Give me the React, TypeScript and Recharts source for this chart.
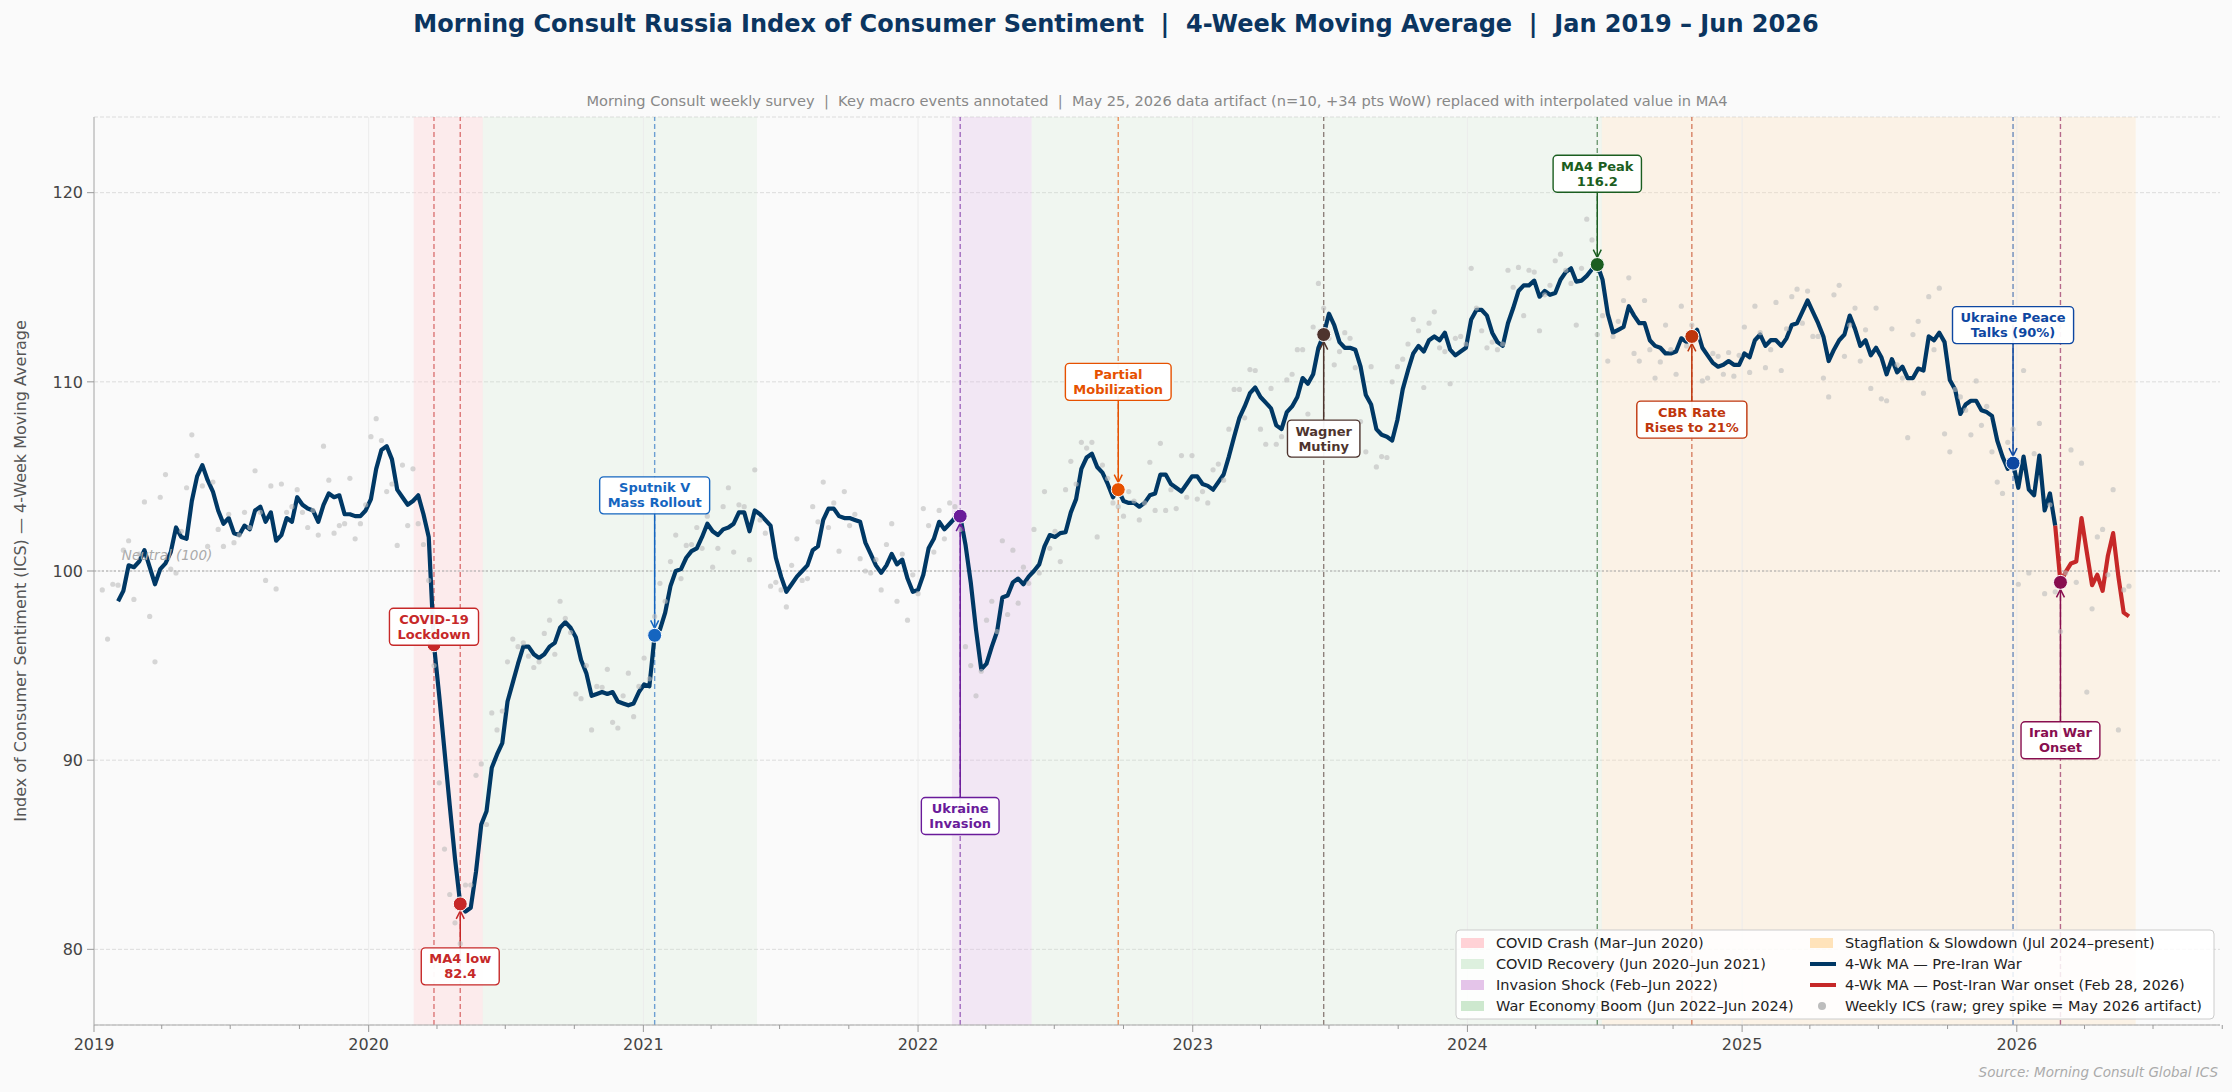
import React from "react";
import {
  CartesianGrid,
  ComposedChart,
  Line,
  ReferenceArea,
  ReferenceDot,
  ReferenceLine,
  XAxis,
  YAxis,
} from "recharts";

// Weekly survey dates start here; one value per week.
const FIRST_WEEK = "2019-01-12";
const X_END = "2026-09-28";
const IRAN_SPLIT = "2026-02-21";

// Raw weekly ICS readings (grey dots).
const rawWeekly = [
  99.0, 96.4, 99.3, 99.25, 101.1, 101.6, 98.5, 100.9, 103.65, 97.6,
  95.2, 103.9, 105.1, 100.1, 99.9, 102.1, 104.4, 107.2, 106.1, 104.5,
  101.3, 104.7, 102.2, 101.3, 103.0, 101.5, 101.9, 103.1, 102.3, 105.3,
  103.1, 99.5, 104.5, 99.05, 104.6, 103.1, 103.4, 104.3, 103.1, 102.3,
  103.2, 101.9, 106.6, 104.8, 102.0, 102.4, 102.5, 104.9, 101.7, 102.5,
  103.5, 107.1, 108.05, 106.9, 104.2, 104.6, 101.35, 105.6, 102.4, 105.4,
  102.5, 101.4, 99.5, 95.0, 88.8, 85.3, 82.9, 81.4, 80.3, 83.4,
  83.4, 89.2, 89.8, 86.6, 92.5, 91.6, 92.6, 95.2, 96.4, 96.0,
  96.2, 95.5, 94.9, 95.2, 96.7, 97.4, 95.6, 98.4, 97.5, 96.75,
  93.5, 93.25, 95.0, 91.6, 93.9, 93.85, 94.8, 92.0, 91.7, 93.4,
  94.6, 92.3, 93.9, 95.4, 94.3, 97.6, 99.35, 98.4, 100.5, 101.9,
  99.6, 101.35, 101.4, 102.3, 101.2, 102.9, 100.2, 101.2, 103.4, 104.4,
  101.0, 103.5, 103.4, 100.6, 105.35, 102.7, 102.0, 99.2, 99.4, 99.0,
  98.1, 100.3, 101.7, 99.5, 99.6, 103.4, 102.6, 104.7, 102.3, 103.6,
  101.05, 104.2, 102.4, 103.0, 100.65, 100.0, 99.9, 100.6, 99.0, 101.4,
  102.5, 98.4, 100.9, 97.4, 99.8, 98.8, 103.3, 102.4, 101.0, 103.2,
  101.7, 103.6, 103.4, 102.2, 96.0, 95.0, 93.4, 94.7, 97.4, 98.4,
  96.8, 101.6, 97.7, 101.1, 98.3, 100.2, 99.35, 102.2, 99.9, 104.2,
  101.2, 102.1, 100.5, 104.3, 105.8, 104.6, 106.8, 106.5, 106.8, 101.8,
  105.6, 104.9, 103.6, 103.4, 102.9, 104.2, 103.7, 102.7, 103.6, 105.75,
  103.2, 106.75, 103.2, 104.3, 103.3, 106.1, 103.9, 106.1, 103.8, 104.2,
  103.6, 105.35, 105.65, 104.8, 107.5, 109.6, 109.6, 108.1, 110.65, 110.6,
  107.5, 106.7, 109.65, 106.7, 107.1, 110.1, 110.4, 111.7, 111.7, 108.3,
  112.9, 115.2, 113.9, 112.3, 110.9, 111.6, 112.6, 112.3, 110.75, 107.9,
  106.3, 110.8, 105.5, 106.05, 106.0, 110.0, 110.8, 111.2, 112.0, 113.3,
  112.7, 109.7, 113.1, 113.7, 111.8, 111.6, 109.9, 112.3, 112.4, 112.0,
  116.0, 113.9, 112.7, 111.8, 112.1, 111.7, 112.0, 115.9, 115.0, 116.05,
  113.5, 115.9, 115.8, 112.7, 114.6, 115.1, 116.4, 116.75, 115.9, 115.2,
  113.0, 116.0, 118.6, 117.5, 112.5, 113.5, 111.1, 112.4, 113.2, 114.3,
  115.5, 111.5, 111.1, 114.3, 111.7, 110.2, 111.05, 113.0, 111.7, 110.4,
  114.0, 111.9, 113.0, 112.3, 110.05, 110.2, 111.5, 111.35, 110.4, 111.55,
  110.3, 111.4, 112.9, 110.5, 114.0, 112.6, 110.75, 111.7, 114.2, 110.6,
  112.8, 114.5, 114.9, 113.1, 114.8, 112.4, 112.4, 110.2, 109.2, 114.6,
  115.1, 111.35, 113.0, 113.9, 111.1, 112.75, 109.65, 113.9, 109.1, 109.0,
  112.8, 110.9, 110.2, 107.05, 112.5, 113.2, 109.4, 114.5, 111.7, 114.95,
  107.25, 106.3, 109.6, 109.2, 108.5, 107.2, 110.05, 107.7, 108.7, 106.3,
  104.7, 104.1, 106.8, 107.5, 99.3, 110.6, 99.9, 106.2, 107.8, 98.8,
  103.5, 98.9, 96.8, 99.9, 106.4, 99.4, 105.7, 93.6, 98.0, 101.8,
  102.2, 99.8, 104.3, 91.6, 99.0, 99.2,
];

// 4-week moving average, first value sits on week index 3.
const MA_OFFSET = 3;
const ma4 = [
  98.4, 98.95, 100.3, 100.2, 100.5, 101.1, 100.2, 99.3, 100.1, 100.4,
  101.0, 102.3, 101.8, 101.7, 103.7, 105.0, 105.6, 104.8, 104.2, 103.2,
  102.5, 102.8, 102.0, 101.9, 102.4, 102.2, 103.2, 103.4, 102.6, 103.1,
  101.6, 101.9, 102.8, 102.6, 103.9, 103.5, 103.3, 103.2, 102.6, 103.5,
  104.1, 103.9, 104.0, 103.0, 103.0, 102.9, 102.9, 103.2, 103.8, 105.4,
  106.4, 106.6, 105.9, 104.3, 103.9, 103.5, 103.7, 104.0, 103.0, 101.8,
  96.1, 93.4, 90.5, 87.6, 84.8, 82.4, 82.0, 82.2, 84.1, 86.6,
  87.3, 89.6, 90.3, 90.9, 93.1, 94.1, 95.1, 96.0, 96.0, 95.6,
  95.4, 95.6, 96.0, 96.2, 97.0, 97.3, 97.0, 96.5, 95.3, 94.6,
  93.4, 93.5, 93.6, 93.5, 93.6, 93.1, 93.0, 92.9, 93.0, 93.6,
  94.0, 93.9, 96.6, 96.9, 97.8, 99.2, 100.0, 100.1, 100.7, 101.05,
  101.2, 101.8, 102.5, 102.1, 101.9, 102.2, 102.3, 102.5, 103.1, 103.1,
  102.1, 103.2, 103.0, 102.7, 102.4, 100.7, 99.7, 98.9, 99.3, 99.7,
  100.0, 100.3, 101.1, 101.3, 102.7, 103.3, 103.3, 102.9, 102.8, 102.8,
  102.7, 102.6, 101.5, 100.9, 100.3, 99.9, 100.3, 100.9, 100.35, 100.6,
  99.6, 98.9, 99.0, 99.8, 101.2, 101.7, 102.6, 102.2, 102.5, 102.8,
  102.9, 101.4, 99.4, 96.9, 94.8, 95.1, 96.0, 96.8, 98.6, 98.7,
  99.4, 99.6, 99.3, 99.7, 100.0, 100.35, 101.3, 101.9, 101.8, 102.0,
  102.05, 103.1, 103.8, 105.4, 106.0, 106.2, 105.5, 105.2, 104.6, 103.9,
  104.3, 103.7, 103.6, 103.6, 103.4, 103.6, 104.0, 104.1, 105.1, 105.1,
  104.6, 104.4, 104.2, 104.6, 105.0, 105.0, 104.6, 104.5, 104.3, 104.7,
  105.1, 106.05, 107.1, 108.1, 108.7, 109.4, 109.7, 109.2, 108.9, 108.6,
  107.7, 107.5, 108.4, 108.7, 109.2, 110.2, 109.9, 110.4, 111.8, 112.5,
  113.6, 113.0, 112.1, 111.8, 111.8, 111.7, 110.8, 109.3, 108.8, 107.5,
  107.2, 107.1, 106.9, 108.0, 109.6, 110.6, 111.5, 111.9, 111.6, 112.2,
  112.4, 112.2, 112.6, 111.7, 111.4, 111.6, 111.8, 113.3, 113.8, 113.8,
  113.5, 112.6, 112.1, 111.9, 113.1, 113.9, 114.8, 115.1, 115.1, 115.35,
  114.5, 114.8, 114.6, 114.7, 115.4, 115.8, 116.0, 115.3, 115.35, 115.6,
  115.95, 116.2, 115.4, 113.6, 112.6, 112.75, 112.9, 114.0, 113.5, 113.1,
  113.1, 112.2, 111.9, 111.8, 111.5, 111.5, 111.6, 112.3, 112.1, 112.4,
  112.75, 111.8, 111.4, 111.0, 110.8, 110.9, 111.1, 110.9, 110.9, 111.5,
  111.3, 112.2, 112.5, 111.9, 112.2, 112.2, 111.9, 112.3, 113.0, 113.1,
  113.7, 114.3, 113.7, 113.1, 112.4, 111.1, 111.7, 112.2, 112.5, 113.5,
  112.8, 111.9, 112.2, 111.4, 111.8, 111.3, 110.4, 111.2, 110.5, 110.8,
  110.2, 110.2, 110.7, 110.6, 112.4, 112.2, 112.6, 112.1, 110.1, 109.6,
  108.3, 108.8, 109.0, 109.0, 108.5, 108.4, 108.2, 106.9, 106.05, 105.4,
  105.7, 104.4, 106.05, 104.3, 104.0, 106.1, 103.2, 104.1, 102.4, 99.4,
  99.95, 100.4, 100.5, 102.8, 101.0, 99.25, 99.8, 98.95, 100.8, 102.0,
  99.7, 97.8, 97.6,
];

const yTicks = [80, 90, 100, 110, 120];
const years = [2019, 2020, 2021, 2022, 2023, 2024, 2025, 2026];
const quarterMonths = ["01", "04", "07", "10"];

const periods = [
  { name: "COVID Crash (Mar–Jun 2020)", from: "2020-03-01", to: "2020-06-01", color: "#ffcdd2", alpha: 0.35 },
  { name: "COVID Recovery (Jun 2020–Jun 2021)", from: "2020-06-01", to: "2021-06-01", color: "#c8e6c9", alpha: 0.2 },
  { name: "Invasion Shock (Feb–Jun 2022)", from: "2022-02-15", to: "2022-06-01", color: "#e1bee7", alpha: 0.3 },
  { name: "War Economy Boom (Jun 2022–Jun 2024)", from: "2022-06-01", to: "2024-06-28", color: "#c8e6c9", alpha: 0.2 },
  { name: "Stagflation & Slowdown (Jul 2024–present)", from: "2024-06-28", to: "2026-06-08", color: "#ffe0b2", alpha: 0.28 },
];

const events = [
  { date: "2020-03-28", label: ["COVID-19", "Lockdown"], color: "#c62828", boxY: 97.05 },
  { date: "2020-05-02", label: ["MA4 low", "82.4"], color: "#c62828", boxY: 79.1 },
  { date: "2021-01-16", label: ["Sputnik V", "Mass Rollout"], color: "#1565c0", boxY: 104.0 },
  { date: "2022-02-26", label: ["Ukraine", "Invasion"], color: "#6a1b9a", boxY: 87.05 },
  { date: "2022-09-24", label: ["Partial", "Mobilization"], color: "#e65100", boxY: 110.0 },
  { date: "2023-06-24", label: ["Wagner", "Mutiny"], color: "#4e342e", boxY: 107.0 },
  { date: "2024-06-22", label: ["MA4 Peak", "116.2"], color: "#1b5e20", boxY: 121.0 },
  { date: "2024-10-26", label: ["CBR Rate", "Rises to 21%"], color: "#bf360c", boxY: 108.0 },
  { date: "2025-12-27", label: ["Ukraine Peace", "Talks (90%)"], color: "#0d47a1", boxY: 113.0 },
  { date: "2026-02-28", label: ["Iran War", "Onset"], color: "#880e4f", boxY: 91.05 },
];

const FONT = "DejaVu Sans, sans-serif";
const NAVY = "#003865";
const RED = "#c62828";
const DAY = 86400000;

function toYear(iso: string) {
  const d = Date.parse(iso + "T00:00:00Z");
  const y = new Date(d).getUTCFullYear();
  const s = Date.UTC(y, 0, 1);
  const e = Date.UTC(y + 1, 0, 1);
  return y + (d - s) / (e - s);
}

const firstMs = Date.parse(FIRST_WEEK + "T00:00:00Z");
const weekIndex = (iso: string) =>
  Math.round((Date.parse(iso + "T00:00:00Z") - firstMs) / (7 * DAY));
const weekIso = (i: number) => new Date(firstMs + i * 7 * DAY).toISOString().slice(0, 10);

const splitIdx = weekIndex(IRAN_SPLIT);

const rows = rawWeekly.map((raw, i) => {
  const m = i >= MA_OFFSET ? ma4[i - MA_OFFSET] : null;
  return {
    t: toYear(weekIso(i)),
    raw,
    ma: i <= splitIdx ? m : null,
    post: i >= splitIdx ? m : null,
  };
});

const xTicks = years.flatMap((y) => quarterMonths.map((m) => toYear(`${y}-${m}-01`)));
const xMax = toYear(X_END);

let measureCtx: CanvasRenderingContext2D | null = null;
function textWidth(s: string, font: string) {
  if (!measureCtx) measureCtx = document.createElement("canvas").getContext("2d");
  if (!measureCtx) return s.length * 8;
  measureCtx.font = font;
  return measureCtx.measureText(s).width;
}

function XTick(props: any) {
  const { x, y, payload } = props;
  const v = payload.value as number;
  const major = Math.abs(v - Math.round(v)) < 1e-6;
  return (
    <g>
      <line x1={x} x2={x} y1={y} y2={y + (major ? 7 : 4)} stroke="#999" strokeWidth={1} />
      {major && (
        <text x={x} y={y + 25} textAnchor="middle" fill="#444" fontSize={16} fontFamily={FONT}>
          {Math.round(v)}
        </text>
      )}
    </g>
  );
}

function EventMarker({ cx, cy, color, fromAbove, arrow }: any) {
  const r = 7;
  const tip = fromAbove ? cy - r : cy + r;
  const back = fromAbove ? tip - 8 : tip + 8;
  return (
    <g>
      {arrow && (
        <polyline
          points={`${cx - 4},${back} ${cx},${tip} ${cx + 4},${back}`}
          fill="none"
          stroke={color}
          strokeWidth={1.5}
        />
      )}
      <circle cx={cx} cy={cy} r={r} fill={color} stroke="#ffffff" strokeWidth={1} />
    </g>
  );
}

function EventBox({ cx, cy, lines, color }: any) {
  const font = `bold 13px ${FONT}`;
  const w = Math.max(...lines.map((l: string) => textWidth(l, font))) + 16;
  const h = 37;
  return (
    <g>
      <rect
        x={cx - w / 2}
        y={cy - h / 2}
        width={w}
        height={h}
        rx={4}
        fill="#ffffff"
        fillOpacity={0.95}
        stroke={color}
        strokeWidth={1.4}
      />
      {lines.map((l: string, k: number) => (
        <text
          key={k}
          x={cx}
          y={cy + (k === 0 ? -7.5 : 7.5)}
          textAnchor="middle"
          dominantBaseline="central"
          fill={color}
          fontSize={13}
          fontWeight="bold"
          fontFamily={FONT}
        >
          {l}
        </text>
      ))}
    </g>
  );
}

function Legend() {
  const rowsY = [943, 964, 985, 1006];
  const patchOpacity = [0.9, 0.6, 0.9, 0.9];
  const txt = { fontSize: 14.5, fontFamily: FONT, fill: "#222" } as const;
  return (
    <g>
      <rect x={1456} y={930} width={758} height={89} rx={4} fill="#ffffff" fillOpacity={0.85} stroke="#cccccc" />
      {periods.slice(0, 4).map((p, k) => (
        <g key={p.name}>
          <rect x={1461} y={rowsY[k] - 5} width={23} height={10} fill={p.color} fillOpacity={patchOpacity[k]} />
          <text x={1496} y={rowsY[k]} dominantBaseline="central" {...txt}>{p.name}</text>
        </g>
      ))}
      <rect x={1810} y={rowsY[0] - 5} width={23} height={10} fill={periods[4].color} fillOpacity={0.9} />
      <text x={1845} y={rowsY[0]} dominantBaseline="central" {...txt}>{periods[4].name}</text>
      <line x1={1810} x2={1836} y1={rowsY[1]} y2={rowsY[1]} stroke={NAVY} strokeWidth={4} />
      <text x={1845} y={rowsY[1]} dominantBaseline="central" {...txt}>4-Wk MA — Pre-Iran War</text>
      <line x1={1810} x2={1836} y1={rowsY[2]} y2={rowsY[2]} stroke={RED} strokeWidth={4} />
      <text x={1845} y={rowsY[2]} dominantBaseline="central" {...txt}>4-Wk MA — Post-Iran War onset (Feb 28, 2026)</text>
      <circle cx={1822} cy={rowsY[3]} r={4} fill="#bdbdbd" />
      <text x={1845} y={rowsY[3]} dominantBaseline="central" {...txt}>Weekly ICS (raw; grey spike = May 2026 artifact)</text>
    </g>
  );
}

export default function App() {
  return (
    <div
      style={{
        position: "absolute",
        left: 0,
        top: 0,
        width: 2232,
        height: 1092,
        background: "#fafafa",
        fontFamily: FONT,
      }}
    >
      <ComposedChart
        width={2232}
        height={1092}
        data={rows}
        margin={{ top: 117, right: 12, bottom: 27, left: 24 }}
      >
        {periods.map((p) => (
          <ReferenceArea
            key={p.name}
            x1={toYear(p.from)}
            x2={toYear(p.to)}
            fill={p.color}
            fillOpacity={p.alpha}
            stroke="none"
          />
        ))}
        <CartesianGrid vertical={false} stroke="#dcdcdc" strokeDasharray="4 2" />
        {years.map((y) => (
          <ReferenceLine key={y} x={y} stroke="#ececec" strokeWidth={1} />
        ))}
        <ReferenceLine y={100} stroke="#aaaaaa" strokeDasharray="2 2" strokeWidth={1.2} />
        <ReferenceDot
          x={toYear("2019-02-07")}
          y={100}
          r={0}
          shape={(p: any) => (
            <text x={p.cx} y={p.cy - 11} fill="#aaaaaa" fontSize={13.5} fontStyle="italic" fontFamily={FONT}>
              Neutral (100)
            </text>
          )}
        />
        {events.map((e) => (
          <ReferenceLine
            key={"v" + e.date}
            x={toYear(e.date)}
            stroke={e.color}
            strokeOpacity={0.6}
            strokeDasharray="5 3"
            strokeWidth={1.4}
          />
        ))}
        <XAxis
          type="number"
          dataKey="t"
          domain={[2019, xMax]}
          allowDataOverflow
          ticks={xTicks}
          interval={0}
          tick={(p: any) => <XTick {...p} />}
          tickLine={false}
          tickSize={0}
          tickMargin={0}
          axisLine={{ stroke: "#aaaaaa" }}
          height={40}
        />
        <YAxis
          type="number"
          domain={[76, 124]}
          ticks={yTicks}
          allowDataOverflow
          tick={{ fill: "#444", fontSize: 16, fontFamily: FONT }}
          tickLine={{ stroke: "#999" }}
          tickSize={7}
          tickMargin={4}
          axisLine={{ stroke: "#aaaaaa" }}
          width={70}
        />
        <Line
          dataKey="raw"
          stroke="none"
          dot={{ r: 2.6, fill: "#bdbdbd", fillOpacity: 0.6, stroke: "none" }}
          activeDot={false}
          isAnimationActive={false}
        />
        <Line
          dataKey="ma"
          stroke={NAVY}
          strokeWidth={4.2}
          dot={false}
          activeDot={false}
          strokeLinejoin="round"
          isAnimationActive={false}
        />
        <Line
          dataKey="post"
          stroke={RED}
          strokeWidth={4.2}
          dot={false}
          activeDot={false}
          strokeLinejoin="round"
          isAnimationActive={false}
        />
        {events.map((e) => {
          const i = weekIndex(e.date);
          const mv = ma4[i - MA_OFFSET];
          if (Math.abs(e.boxY - mv) < 2) return null;
          return (
            <ReferenceLine
              key={"a" + e.date}
              segment={[
                { x: toYear(e.date), y: e.boxY },
                { x: toYear(e.date), y: mv },
              ]}
              stroke={e.color}
              strokeWidth={1.5}
            />
          );
        })}
        {events.map((e) => {
          const i = weekIndex(e.date);
          const mv = ma4[i - MA_OFFSET];
          return (
            <ReferenceDot
              key={"m" + e.date}
              x={toYear(e.date)}
              y={mv}
              r={7}
              shape={(p: any) => (
                <EventMarker
                  cx={p.cx}
                  cy={p.cy}
                  color={e.color}
                  fromAbove={e.boxY > mv}
                  arrow={Math.abs(e.boxY - mv) >= 2}
                />
              )}
            />
          );
        })}
        {events.map((e) => (
          <ReferenceDot
            key={"b" + e.date}
            x={toYear(e.date)}
            y={e.boxY}
            r={1}
            shape={(p: any) => <EventBox cx={p.cx} cy={p.cy} lines={e.label} color={e.color} />}
          />
        ))}
      </ComposedChart>
      <svg
        width={2232}
        height={1092}
        style={{ position: "absolute", left: 0, top: 0, pointerEvents: "none" }}
      >
        <text
          x={1116}
          y={24}
          textAnchor="middle"
          dominantBaseline="central"
          fill="#0b3560"
          fontSize={24}
          fontWeight="bold"
          fontFamily={FONT}
          style={{ whiteSpace: "pre" }}
        >
          {"Morning Consult Russia Index of Consumer Sentiment  |  4-Week Moving Average  |  Jan 2019 – Jun 2026"}
        </text>
        <text
          x={1157}
          y={100}
          textAnchor="middle"
          dominantBaseline="central"
          fill="#888888"
          fontSize={14.6}
          fontFamily={FONT}
          style={{ whiteSpace: "pre" }}
        >
          {"Morning Consult weekly survey  |  Key macro events annotated  |  May 25, 2026 data artifact (n=10, +34 pts WoW) replaced with interpolated value in MA4"}
        </text>
        <text
          x={20}
          y={571}
          transform="rotate(-90 20 571)"
          textAnchor="middle"
          dominantBaseline="central"
          fill="#555555"
          fontSize={16}
          fontFamily={FONT}
        >
          Index of Consumer Sentiment (ICS) — 4-Week Moving Average
        </text>
        <text
          x={2218}
          y={1072}
          textAnchor="end"
          dominantBaseline="central"
          fill="#aaaaaa"
          fontSize={13.5}
          fontStyle="italic"
          fontFamily={FONT}
        >
          Source: Morning Consult Global ICS
        </text>
        <Legend />
      </svg>
    </div>
  );
}
